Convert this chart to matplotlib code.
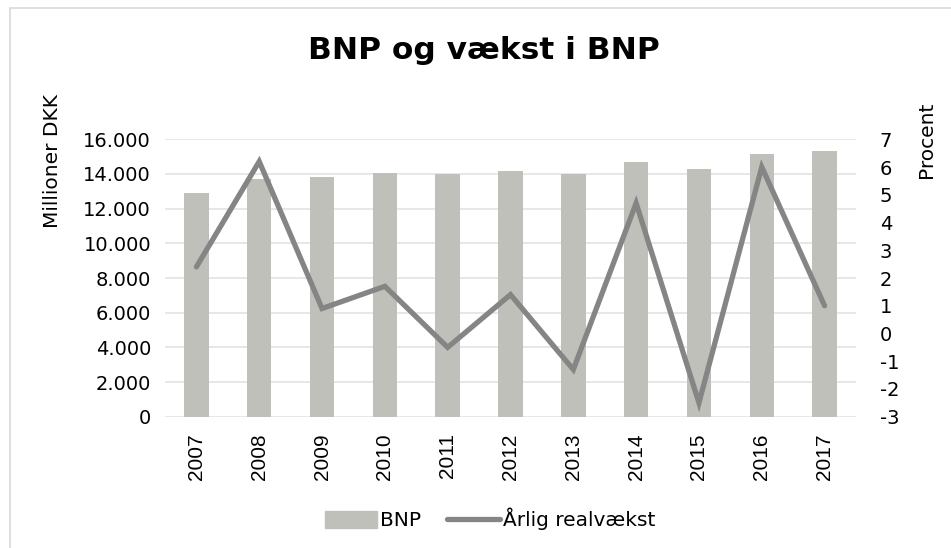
import matplotlib.pyplot as plt
import matplotlib.patches as mpatches
from matplotlib.lines import Line2D
from matplotlib.ticker import FuncFormatter

years = ['2007', '2008', '2009', '2010', '2011', '2012', '2013', '2014', '2015', '2016', '2017']
bnp = [12890, 13710, 13830, 14060, 13980, 14190, 14000, 14690, 14300, 15150, 15310]
vaekst = [2.4, 6.2, 0.9, 1.7, -0.5, 1.4, -1.3, 4.7, -2.5, 6.0, 1.0]

bar_color = '#C0C0BA'
line_color = '#858585'
grid_color = '#E3E3E3'

plt.rcParams['font.family'] = 'DejaVu Sans'
plt.rcParams['axes.unicode_minus'] = False

fig = plt.figure(figsize=(9.51, 5.48), dpi=100)
ax = fig.add_axes([0.1735, 0.2396, 0.7266, 0.5062])

# chart frame
fig.patches.append(mpatches.Rectangle((10 / 951, -0.05), 1.2, 1 - 8 / 548 + 0.05,
                                      transform=fig.transFigure, fill=False,
                                      edgecolor='#D9D9D9', linewidth=1.2))

x = list(range(len(years)))
ax.bar(x, bnp, width=0.39, color=bar_color, zorder=2)
ax.set_ylim(0, 16000)
ax.set_yticks(range(0, 16001, 2000))
ax.yaxis.set_major_formatter(FuncFormatter(lambda v, p: f'{int(v):,}'.replace(',', '.')))
ax.set_xlim(-0.5, len(years) - 0.5)
ax.set_xticks(x)
ax.set_xticklabels(years, rotation=90, fontsize=15, family='Liberation Sans')
ax.tick_params(axis='y', labelsize=14, length=0, pad=10)
ax.tick_params(axis='x', length=0, pad=12)
ax.grid(axis='y', color=grid_color, linewidth=1.2, zorder=0)
ax.set_axisbelow(True)
for s in ax.spines.values():
    s.set_visible(False)

ax2 = ax.twinx()
ax2.plot(x, vaekst, color=line_color, linewidth=3.8, solid_capstyle='round',
         solid_joinstyle='miter', zorder=3)
ax2.set_ylim(-3, 7)
ax2.set_yticks(range(-3, 8))
ax2.tick_params(axis='y', labelsize=14, length=0, pad=17)
for s in ax2.spines.values():
    s.set_visible(False)

# axis titles
fig.text(52 / 951, 1 - 161.5 / 548, 'Millioner DKK', rotation=90, ha='center', va='center',
         fontsize=14.5)
fig.text(927 / 951, 1 - 139.5 / 548, 'Procent', rotation=90, ha='center', va='center',
         fontsize=14.5)

fig.text(484 / 951, 1 - 50 / 548, 'BNP og vækst i BNP', ha='center', va='center',
         fontsize=22.5, fontweight='bold')

handles = [mpatches.Patch(color=bar_color, label='BNP'),
           Line2D([0], [0], color=line_color, linewidth=3.8, solid_capstyle='round',
                  label='Årlig realvækst')]
fig.legend(handles=handles, loc='center', bbox_to_anchor=(490 / 951, 1 - 519 / 548),
           ncol=2, frameon=False, fontsize=14.5, handlelength=2.6, handleheight=0.9,
           columnspacing=1.3, handletextpad=0.15)

fig.savefig('out.png', dpi=100)
